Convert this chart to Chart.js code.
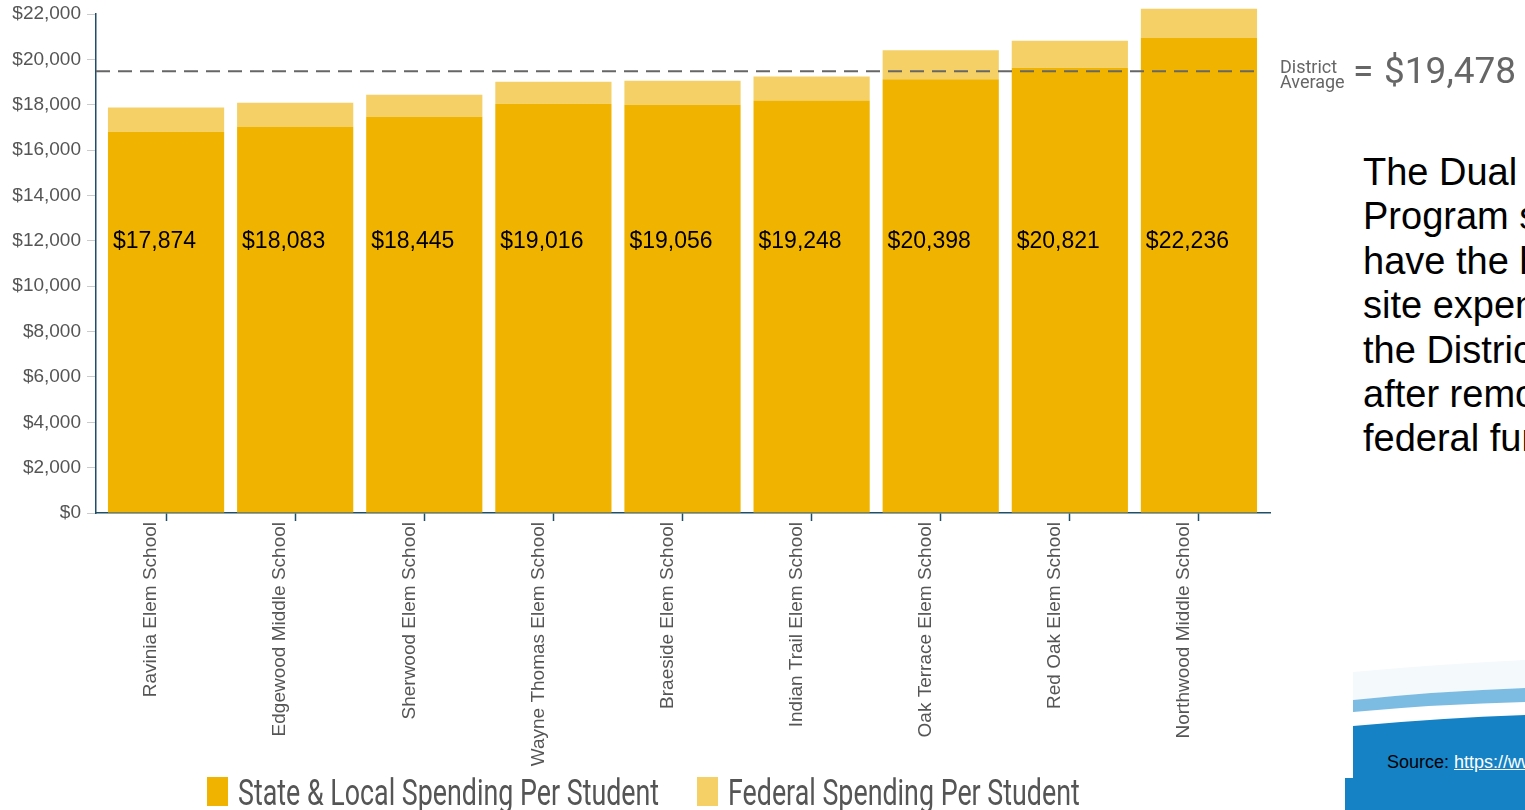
<!DOCTYPE html>
<html>
<head>
<meta charset="utf-8">
<script src="https://cdn.jsdelivr.net/npm/chart.js@4.4.1/dist/chart.umd.min.js"></script>
<style>
  html, body { margin: 0; padding: 0; background: #fff; }
  #page { position: relative; width: 1525px; height: 810px; overflow: hidden; font-family: Arial, "Liberation Sans", sans-serif; }
  #chartBox { position: absolute; left: 0; top: 0; width: 1290px; height: 810px; }
  #legend { position: absolute; left: 0; top: 774px; width: 1290px; height: 36px; }
  .lg-item { position: absolute; top: 0; height: 36px; }
  .lg-box { position: absolute; left: 0; top: 3px; width: 21px; height: 29px; }
  .lg-text { position: absolute; left: 31px; top: -2px; white-space: nowrap; font-family: Roboto, sans-serif; font-size: 36px; color: #555; transform: scaleX(0.745); transform-origin: left top; }
  #avgLabel { position: absolute; left: 1280px; top: 59px; color: #666; font-family: Roboto, sans-serif; }
  #avgLabel .small { position: absolute; left: 0; top: 0; font-size: 18px; line-height: 15px; }
  #avgLabel .eq { position: absolute; left: 73px; top: -10px; font-size: 37px; }
  #avgLabel .big { position: absolute; left: 104px; top: -10px; font-size: 37px; white-space: nowrap; }
  #note { position: absolute; left: 1363px; top: 150px; font-size: 38px; line-height: 44.4px; color: #000; white-space: nowrap; }
  #source { position: absolute; left: 1387px; top: 752px; font-size: 18px; color: #000; white-space: nowrap; }
  #source a { color: #fff; text-decoration: underline; }
</style>
</head>
<body>
<div id="page">
  <svg style="position:absolute;left:1300px;top:640px" width="225" height="170">
    <path d="M53,32 Q140,24 225,20 L225,48 Q140,51 53,60 Z" fill="#f4f9fc"/>
    <path d="M53,60 Q140,51 225,48 L225,62 Q140,64 53,72 Z" fill="#7dbce2"/>
    <path d="M53,86 Q140,78 225,75 L225,170 L45,170 L45,138 L53,138 Z" fill="#1582c5"/>
  </svg>
  <div id="chartBox"><canvas id="chart"></canvas></div>
  <div id="legend"></div>
  <div id="avgLabel"><div class="small">District<br>Average</div><div class="eq">=</div><div class="big">$19,478</div></div>
  <div id="note">The Dual Language<br>Program sites<br>have the highest per<br>site expenditures in<br>the District, even<br>after removing<br>federal funds.</div>
  <div id="source">Source: <a>https://www.illinoisreportcard.com</a></div>
</div>
<script>
// values
const schools = [
  'Ravinia Elem School', 'Edgewood Middle School', 'Sherwood Elem School',
  'Wayne Thomas Elem School', 'Braeside Elem School', 'Indian Trail Elem School',
  'Oak Terrace Elem School', 'Red Oak Elem School', 'Northwood Middle School'
];
const stateLocal = [16814, 17023, 17475, 18046, 17996, 18188, 19118, 19631, 20946];
const federal = [1060, 1060, 970, 970, 1060, 1060, 1280, 1190, 1290];
const totals = [17874, 18083, 18445, 19016, 19056, 19248, 20398, 20821, 22236];
const districtAverage = 19478;
const yMax = 22000;
const yStep = 2000;
const labelLevel = 12000;

function money(v) {
  return '$' + Number(v).toLocaleString('en-US');
}

// the bands sit a little inside the axis line, like the original
const bandInset = {
  id: 'bandInset',
  afterLayout(chart) {
    const x = chart.scales.x;
    x._startPixel += 5.5;
    x._length -= 12;
  }
};

// totals written inside each bar + dashed district average line
const overlay = {
  id: 'overlay',
  afterDatasetsDraw(chart) {
    const ctx = chart.ctx;
    const y = chart.scales.y;
    const area = chart.chartArea;
    const meta = chart.getDatasetMeta(0);
    ctx.save();
    ctx.font = '23px Arial, "Liberation Sans", sans-serif';
    ctx.fillStyle = '#000';
    ctx.textBaseline = 'middle';
    ctx.textAlign = 'left';
    meta.data.forEach((bar, i) => {
      ctx.fillText(money(totals[i]), bar.x - bar.width / 2 + 5, y.getPixelForValue(labelLevel) + 1);
    });
    const ay = y.getPixelForValue(districtAverage);
    ctx.setLineDash([14, 8]);
    ctx.strokeStyle = '#666';
    ctx.lineWidth = 2;
    ctx.beginPath();
    ctx.moveTo(area.left, ay);
    ctx.lineTo(area.right - 8, ay);
    ctx.stroke();
    ctx.restore();
  }
};

const chart = new Chart(document.getElementById('chart'), {
  type: 'bar',
  data: {
    labels: schools,
    datasets: [{
      label: 'State & Local Spending Per Student',
      data: stateLocal,
      backgroundColor: '#f0b400',
      clip: false
    }, {
      label: 'Federal Spending Per Student',
      data: federal,
      backgroundColor: '#f5d067',
      clip: false
    }]
  },
  options: {
    responsive: true,
    maintainAspectRatio: false,
    animation: false,
    layout: { padding: { top: 14, right: 20, bottom: 0, left: 0 } },
    datasets: { bar: { barPercentage: 0.9, categoryPercentage: 1 } },
    plugins: {
      legend: { display: false },
      tooltip: { enabled: false }
    },
    scales: {
      x: {
        stacked: true,
        border: { color: '#1f4f68', width: 1.5 },
        grid: { offset: false, drawOnChartArea: false, tickLength: 8, color: '#1f4f68', tickWidth: 1.5 },
        ticks: {
          minRotation: 90, maxRotation: 90, autoSkip: false, padding: 1, labelOffset: -15,
          color: '#555', font: { family: 'Arial, "Liberation Sans", sans-serif', size: 19 }
        },
        afterFit(scale) { scale.height = 297; }
      },
      y: {
        stacked: true,
        min: 0,
        max: yMax,
        border: { color: '#1f4f68', width: 1.5 },
        grid: { drawOnChartArea: false, tickLength: 9, color: '#ccc' },
        ticks: {
          stepSize: yStep, padding: 6, color: '#555',
          font: { family: 'Arial, "Liberation Sans", sans-serif', size: 19 },
          callback: v => money(v)
        },
        afterFit(scale) {
          scale.width = 96;
          scale.paddingTop = 0;
          scale.paddingBottom = 0;
        }
      }
    }
  },
  plugins: [bandInset, overlay]
});

// legend built from the datasets
const legendEl = document.getElementById('legend');
const legendLefts = [207, 697];
chart.data.datasets.forEach((ds, i) => {
  const item = document.createElement('div');
  item.className = 'lg-item';
  item.style.left = legendLefts[i] + 'px';
  item.innerHTML = '<div class="lg-box" style="background:' + ds.backgroundColor + '"></div>' +
    '<div class="lg-text">' + ds.label.replace('&', '&amp;') + '</div>';
  legendEl.appendChild(item);
});
</script>
</body>
</html>
